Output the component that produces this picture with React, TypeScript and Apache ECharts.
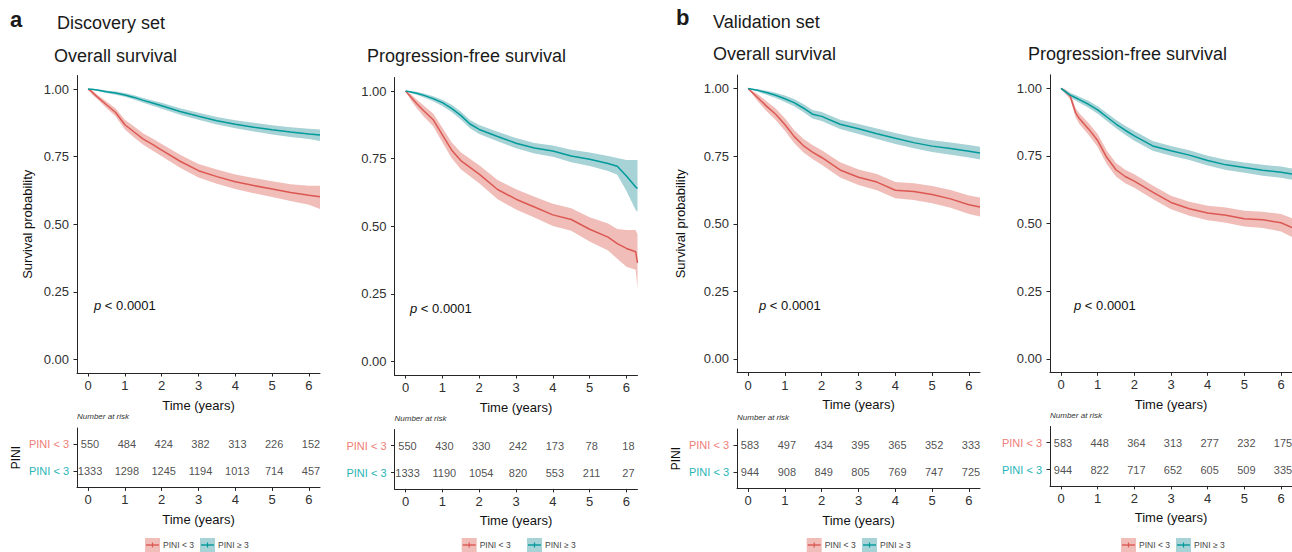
import React, { useEffect, useRef } from "react";
import * as echarts from "echarts";

const FONT = "'Liberation Sans', Arial, Helvetica, sans-serif";
const RED = "#DC5853";
const TEAL = "#009A9B";
const RED_BAND = "#F0BDB8";
const TEAL_BAND = "#A8D3D6";
const RED_TXT = "#EE7E77";
const TEAL_TXT = "#27B4B7";
const AXIS = "#262626";
const TICK_TXT = "#303030";

const xTicks = [0, 1, 2, 3, 4, 5, 6];
const yTicks = [0, 0.25, 0.5, 0.75, 1];
const groupLabels = ["PINI < 3", "PINI < 3"];
const legendLabels = ["PINI < 3", "PINI \u2265 3"];

// ---- Discovery set, overall survival ----
const dosTime = [0, 0.1, 0.25, 0.5, 0.75, 1, 1.25, 1.5, 1.75, 2, 2.5, 3, 3.5, 4, 4.5, 5, 5.5, 6, 6.3];
const dosRed = [1, 0.99, 0.971, 0.942, 0.913, 0.868, 0.841, 0.815, 0.795, 0.774, 0.733, 0.698, 0.676, 0.657, 0.643, 0.63, 0.617, 0.607, 0.602];
const dosRedLo = [1, 0.981, 0.963, 0.93, 0.898, 0.85, 0.821, 0.794, 0.773, 0.751, 0.709, 0.673, 0.65, 0.63, 0.615, 0.601, 0.586, 0.572, 0.556];
const dosRedHi = [1, 0.997, 0.979, 0.954, 0.928, 0.886, 0.861, 0.836, 0.817, 0.797, 0.757, 0.723, 0.702, 0.684, 0.671, 0.659, 0.648, 0.642, 0.642];
const dosTeal = [1, 0.999, 0.996, 0.99, 0.985, 0.978, 0.969, 0.958, 0.948, 0.938, 0.917, 0.899, 0.883, 0.87, 0.859, 0.849, 0.841, 0.834, 0.83];
const dosTealLo = [1, 0.998, 0.993, 0.985, 0.979, 0.971, 0.961, 0.949, 0.938, 0.927, 0.905, 0.886, 0.869, 0.855, 0.843, 0.832, 0.823, 0.815, 0.808];
const dosTealHi = [1, 1, 0.999, 0.995, 0.991, 0.985, 0.977, 0.967, 0.958, 0.949, 0.929, 0.912, 0.897, 0.885, 0.875, 0.866, 0.859, 0.853, 0.85];
const dosRiskRed = [550, 484, 424, 382, 313, 226, 152];
const dosRiskTeal = [1333, 1298, 1245, 1194, 1013, 714, 457];

// ---- Discovery set, progression-free survival ----
const dpfsTime = [0, 0.15, 0.3, 0.5, 0.75, 1, 1.25, 1.5, 1.75, 2, 2.5, 3, 3.5, 4, 4.5, 5, 5.5, 5.75, 6, 6.25, 6.3];
const dpfsRed = [1, 0.977, 0.954, 0.926, 0.894, 0.838, 0.782, 0.743, 0.718, 0.693, 0.636, 0.6, 0.571, 0.542, 0.525, 0.489, 0.46, 0.436, 0.418, 0.406, 0.365];
const dpfsRedLo = [1, 0.965, 0.937, 0.905, 0.87, 0.811, 0.752, 0.711, 0.685, 0.659, 0.6, 0.562, 0.532, 0.501, 0.483, 0.444, 0.41, 0.38, 0.35, 0.339, 0.271];
const dpfsRedHi = [1, 0.988, 0.969, 0.946, 0.917, 0.864, 0.811, 0.774, 0.75, 0.726, 0.671, 0.637, 0.609, 0.583, 0.567, 0.533, 0.51, 0.49, 0.486, 0.486, 0.47];
const dpfsTeal = [1, 0.996, 0.992, 0.984, 0.972, 0.957, 0.936, 0.91, 0.878, 0.858, 0.832, 0.807, 0.789, 0.778, 0.76, 0.748, 0.732, 0.722, 0.686, 0.645, 0.64];
const dpfsTealLo = [1, 0.992, 0.986, 0.976, 0.962, 0.945, 0.922, 0.895, 0.862, 0.841, 0.814, 0.788, 0.769, 0.757, 0.737, 0.723, 0.704, 0.69, 0.63, 0.56, 0.554];
const dpfsTealHi = [1, 0.999, 0.997, 0.991, 0.981, 0.968, 0.949, 0.924, 0.893, 0.874, 0.849, 0.826, 0.808, 0.799, 0.783, 0.773, 0.76, 0.752, 0.745, 0.745, 0.745];
const dpfsRiskRed = [550, 430, 330, 242, 173, 78, 18];
const dpfsRiskTeal = [1333, 1190, 1054, 820, 553, 211, 27];

// ---- Validation set, overall survival ----
const vosTime = [0, 0.25, 0.5, 0.75, 1, 1.25, 1.5, 1.75, 2, 2.5, 3, 3.5, 4, 4.5, 5, 5.5, 6, 6.3];
const vosRed = [1, 0.968, 0.935, 0.905, 0.867, 0.823, 0.789, 0.765, 0.745, 0.699, 0.672, 0.654, 0.624, 0.619, 0.608, 0.592, 0.57, 0.562];
const vosRedLo = [1, 0.955, 0.917, 0.884, 0.844, 0.799, 0.764, 0.739, 0.718, 0.671, 0.643, 0.624, 0.594, 0.588, 0.576, 0.559, 0.536, 0.527];
const vosRedHi = [1, 0.981, 0.953, 0.926, 0.89, 0.847, 0.814, 0.791, 0.772, 0.727, 0.701, 0.684, 0.654, 0.65, 0.64, 0.625, 0.604, 0.597];
const vosTeal = [1, 0.994, 0.985, 0.975, 0.962, 0.948, 0.928, 0.905, 0.897, 0.868, 0.851, 0.833, 0.816, 0.8, 0.787, 0.778, 0.768, 0.762];
const vosTealLo = [1, 0.989, 0.977, 0.965, 0.95, 0.934, 0.913, 0.889, 0.88, 0.85, 0.832, 0.813, 0.795, 0.779, 0.765, 0.755, 0.745, 0.738];
const vosTealHi = [1, 0.998, 0.992, 0.984, 0.974, 0.961, 0.943, 0.921, 0.913, 0.885, 0.869, 0.852, 0.836, 0.821, 0.809, 0.8, 0.791, 0.785];
const vosRiskRed = [583, 497, 434, 395, 365, 352, 333];
const vosRiskTeal = [944, 908, 849, 805, 769, 747, 725];

// ---- Validation set, progression-free survival ----
const vpfsTime = [0, 0.1, 0.25, 0.4, 0.5, 0.75, 1, 1.25, 1.5, 1.75, 2, 2.5, 3, 3.5, 4, 4.5, 5, 5.5, 6, 6.3];
const vpfsRed = [1, 0.99, 0.972, 0.909, 0.888, 0.85, 0.807, 0.744, 0.699, 0.674, 0.657, 0.616, 0.578, 0.555, 0.539, 0.531, 0.518, 0.514, 0.503, 0.485];
const vpfsRedLo = [1, 0.982, 0.96, 0.892, 0.868, 0.828, 0.783, 0.719, 0.674, 0.649, 0.632, 0.591, 0.553, 0.529, 0.512, 0.503, 0.489, 0.484, 0.471, 0.45];
const vpfsRedHi = [1, 0.998, 0.984, 0.926, 0.908, 0.872, 0.831, 0.769, 0.724, 0.699, 0.682, 0.641, 0.603, 0.581, 0.566, 0.559, 0.547, 0.544, 0.535, 0.52];
const vpfsTeal = [1, 0.99, 0.975, 0.965, 0.958, 0.941, 0.92, 0.894, 0.868, 0.845, 0.824, 0.787, 0.769, 0.753, 0.733, 0.717, 0.707, 0.697, 0.69, 0.683];
const vpfsTealLo = [1, 0.984, 0.966, 0.955, 0.947, 0.928, 0.906, 0.879, 0.852, 0.828, 0.806, 0.769, 0.751, 0.735, 0.715, 0.698, 0.688, 0.677, 0.669, 0.662];
const vpfsTealHi = [1, 0.996, 0.984, 0.975, 0.969, 0.954, 0.934, 0.909, 0.884, 0.862, 0.842, 0.805, 0.787, 0.771, 0.751, 0.736, 0.726, 0.717, 0.711, 0.704];
const vpfsRiskRed = [583, 448, 364, 313, 277, 232, 175];
const vpfsRiskTeal = [944, 822, 717, 652, 605, 509, 335];

const panels = [
  {
    time: dosTime, red: dosRed, redLo: dosRedLo, redHi: dosRedHi,
    teal: dosTeal, tealLo: dosTealLo, tealHi: dosTealHi,
    riskRed: dosRiskRed, riskTeal: dosRiskTeal,
    left: 77, top: 75.5, riskTop: 428, yName: true, yNameGap: 50, pini: true,
    px: 94, py: 305, legRed: 145, legTeal: 200,
  },
  {
    time: dpfsTime, red: dpfsRed, redLo: dpfsRedLo, redHi: dpfsRedHi,
    teal: dpfsTeal, tealLo: dpfsTealLo, tealHi: dpfsTealHi,
    riskRed: dpfsRiskRed, riskTeal: dpfsRiskTeal,
    left: 394.5, top: 77.5, riskTop: 429.5, yName: false, yNameGap: 50, pini: false,
    px: 410, py: 308, legRed: 461.7, legTeal: 527,
  },
  {
    time: vosTime, red: vosRed, redLo: vosRedLo, redHi: vosRedHi,
    teal: vosTeal, tealLo: vosTealLo, tealHi: vosTealHi,
    riskRed: vosRiskRed, riskTeal: vosRiskTeal,
    left: 737, top: 75, riskTop: 429, yName: true, yNameGap: 57, pini: true,
    px: 759, py: 305, legRed: 806.7, legTeal: 862,
  },
  {
    time: vpfsTime, red: vpfsRed, redLo: vpfsRedLo, redHi: vpfsRedHi,
    teal: vpfsTeal, tealLo: vpfsTealLo, tealHi: vpfsTealHi,
    riskRed: vpfsRiskRed, riskTeal: vpfsRiskTeal,
    left: 1050, top: 74.8, riskTop: 426.5, yName: false, yNameGap: 50, pini: false,
    px: 1074, py: 305, legRed: 1121, legTeal: 1176,
  },
];

const titles = [
  { text: "a", x: 10, y: 19, size: 22, bold: true },
  { text: "Discovery set", x: 57, y: 23, size: 18, bold: false },
  { text: "Overall survival", x: 54, y: 56, size: 18, bold: false },
  { text: "Progression-free survival", x: 367, y: 56, size: 18, bold: false },
  { text: "b", x: 676, y: 17, size: 22, bold: true },
  { text: "Validation set", x: 713, y: 22, size: 18, bold: false },
  { text: "Overall survival", x: 713, y: 54, size: 18, bold: false },
  { text: "Progression-free survival", x: 1028, y: 54, size: 18, bold: false },
];

const PW = 243;
const PH = 297.5;
const RH = 59.4;

function bandSeries(time: number[], lo: number[], hi: number[], fill: string, axisIdx: number) {
  return {
    type: "custom",
    xAxisIndex: axisIdx,
    yAxisIndex: axisIdx,
    data: [[time[0], hi[0]]],
    silent: true,
    z: 1,
    renderItem: (params: any, api: any) => {
      if (params.dataIndex !== 0) return null;
      const pts: number[][] = [];
      for (let i = 0; i < time.length; i++) pts.push(api.coord([time[i], hi[i]]));
      for (let i = time.length - 1; i >= 0; i--) pts.push(api.coord([time[i], lo[i]]));
      return { type: "polygon", shape: { points: pts }, style: { fill, stroke: "none" } };
    },
  };
}

function lineSeries(time: number[], vals: number[], color: string, axisIdx: number) {
  return {
    type: "line",
    xAxisIndex: axisIdx,
    yAxisIndex: axisIdx,
    data: time.map((t, i) => [t, vals[i]]),
    showSymbol: false,
    symbol: "none",
    silent: true,
    z: 3,
    lineStyle: { color, width: 1.5 },
  };
}

function buildOption() {
  const grid: any[] = [];
  const xAxis: any[] = [];
  const yAxis: any[] = [];
  const series: any[] = [];
  const graphic: any[] = [];

  const baseX = (gi: number) => ({
    type: "value",
    gridIndex: gi,
    min: -0.3,
    max: 6.3,
    axisLine: { show: true, onZero: false, lineStyle: { color: AXIS, width: 1 } },
    axisTick: { show: true, length: 3.5, customValues: xTicks, lineStyle: { color: AXIS, width: 1 } },
    axisLabel: { customValues: xTicks, margin: 6, fontSize: 13, color: TICK_TXT, fontFamily: FONT },
    splitLine: { show: false },
    name: "Time (years)",
    nameLocation: "middle",
    nameGap: 32,
    nameTextStyle: { fontSize: 13, color: "#111", fontFamily: FONT, verticalAlign: "middle" },
  });

  panels.forEach((p, k) => {
    const gMain = 2 * k;
    const gRisk = 2 * k + 1;
    grid.push({ left: p.left, top: p.top, width: PW, height: PH, containLabel: false });
    grid.push({ left: p.left, top: p.riskTop, width: PW, height: RH, containLabel: false });

    xAxis.push(baseX(gMain));
    xAxis.push(baseX(gRisk));

    yAxis.push({
      type: "value",
      gridIndex: gMain,
      min: -0.05,
      max: 1.05,
      axisLine: { show: true, onZero: false, lineStyle: { color: AXIS, width: 1 } },
      axisTick: { show: true, length: 3.5, customValues: yTicks, lineStyle: { color: AXIS, width: 1 } },
      axisLabel: {
        customValues: yTicks,
        margin: 8,
        fontSize: 13,
        color: TICK_TXT,
        fontFamily: FONT,
        formatter: (v: number) => v.toFixed(2),
      },
      splitLine: { show: false },
      name: p.yName ? "Survival probability" : "",
      nameLocation: "middle",
      nameGap: p.yNameGap,
      nameRotate: 90,
      nameTextStyle: { fontSize: 13, color: "#111", fontFamily: FONT, verticalAlign: "middle" },
    });

    yAxis.push({
      type: "value",
      gridIndex: gRisk,
      min: 0.4,
      max: 2.6,
      axisLine: { show: true, onZero: false, lineStyle: { color: AXIS, width: 1 } },
      axisTick: { show: true, length: 3.5, customValues: [1, 2], lineStyle: { color: AXIS, width: 1 } },
      axisLabel: {
        customValues: [1, 2],
        margin: 8,
        formatter: (v: number) => (v === 2 ? `{r|${groupLabels[0]}}` : `{t|${groupLabels[1]}}`),
        rich: {
          r: { color: RED_TXT, fontSize: 11, fontFamily: FONT },
          t: { color: TEAL_TXT, fontSize: 11, fontFamily: FONT },
        },
      },
      splitLine: { show: false },
      name: p.pini ? "PINI" : "",
      nameLocation: "middle",
      nameGap: 61,
      nameRotate: 90,
      nameTextStyle: { fontSize: 12, color: "#111", fontFamily: FONT, verticalAlign: "middle" },
    });

    const ax = gMain;
    series.push(bandSeries(p.time, p.redLo, p.redHi, RED_BAND, ax));
    series.push(bandSeries(p.time, p.tealLo, p.tealHi, TEAL_BAND, ax));
    series.push(lineSeries(p.time, p.red, RED, ax));
    series.push(lineSeries(p.time, p.teal, TEAL, ax));

    const riskData: any[] = [];
    xTicks.forEach((t, i) => {
      riskData.push([t, 2, p.riskRed[i]]);
      riskData.push([t, 1, p.riskTeal[i]]);
    });
    series.push({
      type: "scatter",
      xAxisIndex: gRisk,
      yAxisIndex: gRisk,
      data: riskData,
      symbolSize: 1,
      itemStyle: { color: "rgba(0,0,0,0)" },
      silent: true,
      label: {
        show: true,
        position: "inside",
        offset: [2, 0],
        formatter: (prm: any) => String(prm.value[2]),
        fontSize: 11,
        color: "#222",
        fontFamily: FONT,
      },
    });

    // "Number at risk"
    graphic.push({
      type: "text",
      x: p.left,
      y: p.riskTop - 11.5,
      silent: true,
      style: { text: "Number at risk", fontSize: 8, fontStyle: "italic", fontFamily: FONT, fill: "#333", verticalAlign: "middle", align: "left" },
    });
    // p-value
    graphic.push({
      type: "text",
      x: p.px,
      y: p.py,
      silent: true,
      style: {
        text: "{i|p} < 0.0001",
        fontSize: 13,
        fontFamily: FONT,
        fill: "#111",
        verticalAlign: "middle",
        align: "left",
        rich: { i: { fontStyle: "italic", fontSize: 13, fontFamily: FONT, fill: "#111" } },
      },
    });
    // legend
    const legItems = [
      { x: p.legRed, band: RED_BAND, line: RED, label: legendLabels[0] },
      { x: p.legTeal, band: TEAL_BAND, line: TEAL, label: legendLabels[1] },
    ];
    legItems.forEach((it) => {
      graphic.push({ type: "rect", silent: true, shape: { x: it.x, y: 538, width: 15, height: 14 }, style: { fill: it.band } });
      graphic.push({ type: "line", silent: true, shape: { x1: it.x + 1, y1: 545, x2: it.x + 14, y2: 545 }, style: { stroke: it.line, lineWidth: 1.4 } });
      graphic.push({ type: "line", silent: true, shape: { x1: it.x + 7.5, y1: 542.5, x2: it.x + 7.5, y2: 547.5 }, style: { stroke: it.line, lineWidth: 1.2 } });
      graphic.push({
        type: "text",
        silent: true,
        x: it.x + 18,
        y: 545,
        style: { text: it.label, fontSize: 8.5, fontFamily: FONT, fill: "#444", verticalAlign: "middle", align: "left" },
      });
    });
  });

  titles.forEach((t) => {
    graphic.push({
      type: "text",
      x: t.x,
      y: t.y,
      silent: true,
      style: {
        text: t.text,
        fontSize: t.size,
        fontWeight: t.bold ? "bold" : "normal",
        fontFamily: FONT,
        fill: "#1a1a1a",
        verticalAlign: "middle",
        align: "left",
      },
    });
  });

  return {
    animation: false,
    backgroundColor: "#ffffff",
    textStyle: { fontFamily: FONT },
    grid,
    xAxis,
    yAxis,
    series,
    graphic,
  };
}

export default function App() {
  const ref = useRef<HTMLDivElement | null>(null);
  useEffect(() => {
    if (!ref.current) return;
    const chart = echarts.init(ref.current, undefined, { renderer: "svg" });
    chart.setOption(buildOption() as any);
    return () => chart.dispose();
  }, []);
  return (
    <div
      ref={ref}
      style={{ position: "absolute", left: 0, top: 0, width: 1292, height: 552, background: "#fff" }}
    />
  );
}
